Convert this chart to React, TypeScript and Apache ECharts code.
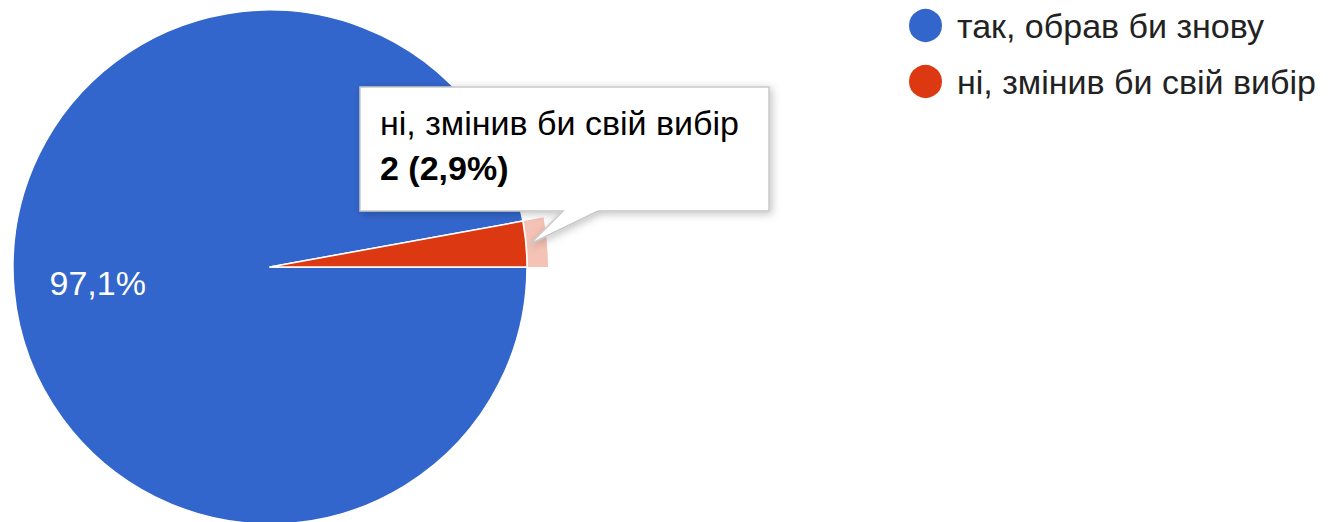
import React, { useEffect, useRef } from "react";
import * as echarts from "echarts";

const categories = ["так, обрав би знову", "ні, змінив би свій вибір"];
const values = [68, 2];
const colors = ["#3366cc", "#dc3912"];
const highlightColor = "#f5c3b6";
const hoveredIndex = 1;

const FONT = "Liberation Sans, Arial, sans-serif";

function pct(v: number, total: number) {
  return (v / total * 100).toFixed(1).replace(".", ",");
}

export default function App() {
  const ref = useRef<HTMLDivElement>(null);
  useEffect(() => {
    document.body.style.margin = "0";
    const chart = echarts.init(ref.current!, null, { renderer: "svg" });
    const total = values.reduce((a, b) => a + b, 0);
    const mainData = categories.map((name, i) => ({
      name,
      value: values[i],
      itemStyle: { color: colors[i] },
    }));
    const highlightData = categories.map((name, i) => ({
      name,
      value: values[i],
      itemStyle: { color: i === hoveredIndex ? highlightColor : "rgba(0,0,0,0)" },
    }));
    const labelData = categories.map((name, i) => ({
      name,
      value: values[i],
      label: { show: i === 0 },
    }));
    const center = [270, 267];
    chart.setOption({
      animation: false,
      legend: {
        orient: "vertical",
        left: 902,
        top: 2,
        icon: "circle",
        itemWidth: 35,
        itemHeight: 35,
        itemGap: 19,
        selectedMode: false,
        data: categories,
        textStyle: {
          fontFamily: FONT,
          fontSize: 34,
          color: "#222222",
          padding: [0, 0, 0, 9],
        },
      },
      series: [
        {
          type: "pie",
          center,
          radius: [0, 257],
          startAngle: 0,
          clockwise: true,
          silent: true,
          label: { show: false },
          labelLine: { show: false },
          itemStyle: { borderColor: "#ffffff", borderWidth: 1.5 },
          data: mainData,
        },
        {
          type: "pie",
          center,
          radius: [258, 278],
          startAngle: 0,
          clockwise: true,
          silent: true,
          label: { show: false },
          labelLine: { show: false },
          data: highlightData,
        },
        {
          type: "pie",
          center,
          radius: [0, 340],
          startAngle: 0,
          clockwise: true,
          silent: true,
          itemStyle: { color: "rgba(0,0,0,0)" },
          labelLine: { show: false },
          label: {
            position: "inside",
            color: "#ffffff",
            fontFamily: FONT,
            fontSize: 34,
            formatter: (p: any) => pct(p.value, total) + "%",
          },
          data: labelData,
        },
      ],
      graphic: [
        {
          type: "group",
          z: 100,
          children: [
            {
              type: "polygon",
              z: 100,
              shape: {
                points: [
                  [360, 87],
                  [769, 87],
                  [769, 211],
                  [598, 211],
                  [530, 244],
                  [563, 211],
                  [360, 211],
                ],
              },
              style: {
                fill: "#ffffff",
                stroke: "#c8c8c8",
                lineWidth: 1.5,
                shadowBlur: 8,
                shadowColor: "rgba(0,0,0,0.25)",
                shadowOffsetX: 2,
                shadowOffsetY: 2,
              },
            },
            {
              type: "text",
              z: 101,
              x: 380,
              y: 123,
              style: {
                text: categories[hoveredIndex],
                font: `34px ${FONT}`,
                fill: "#000000",
                verticalAlign: "middle",
              },
            },
            {
              type: "text",
              z: 101,
              x: 380,
              y: 168,
              style: {
                text: `${values[hoveredIndex]} (${pct(values[hoveredIndex], total)}%)`,
                font: `bold 34px ${FONT}`,
                fill: "#000000",
                verticalAlign: "middle",
              },
            },
          ],
        },
      ],
    });
    return () => chart.dispose();
  }, []);
  return <div ref={ref} style={{ width: 1332, height: 522 }} />;
}
